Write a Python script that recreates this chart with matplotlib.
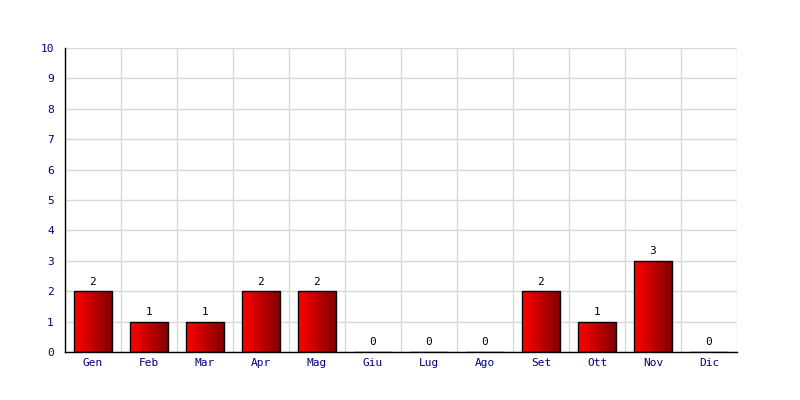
import numpy as np
import matplotlib.pyplot as plt
from matplotlib.colors import LinearSegmentedColormap

months = ["Gen", "Feb", "Mar", "Apr", "Mag", "Giu", "Lug", "Ago", "Set", "Ott", "Nov", "Dic"]
values = [2, 1, 1, 2, 2, 0, 0, 0, 2, 1, 3, 0]
y_ticks = list(range(0, 11))

plt.rcParams['font.family'] = ['DejaVu Sans Mono']

fig = plt.figure(figsize=(8, 4), dpi=100)
ax = fig.add_axes([0.08125, 0.12, 0.84, 0.76])

x = np.arange(len(months))
bar_w = 0.68
grad = LinearSegmentedColormap.from_list("redgrad", ["#ff0000", "#800000"])
g = np.linspace(0, 1, 256).reshape(1, -1)

bars = ax.bar(x, values, width=bar_w, facecolor="none", edgecolor="black", linewidth=1, zorder=3)
for b, v in zip(bars, values):
    if v > 0:
        x0 = b.get_x()
        im = ax.imshow(g, cmap=grad, aspect="auto", extent=[x0, x0 + bar_w, 0, v],
                       zorder=2, interpolation="bicubic")
        im.set_clip_path(b)
    ax.text(b.get_x() + bar_w / 2, v + 0.15, str(v), ha="center", va="bottom",
            fontsize=8, color="black", zorder=4)

ax.set_xlim(-0.5, len(months) - 0.5)
ax.set_ylim(0, 10)
ax.set_yticks(y_ticks)
ax.set_xticks(x)
ax.set_xticklabels(months)
ax.set_xticks(np.arange(-0.5, len(months), 1), minor=True)
ax.grid(False)
ax.grid(True, which="minor", axis="x", color="#d9d9d9", linewidth=1, zorder=0)
ax.grid(True, which="major", axis="y", color="#d9d9d9", linewidth=1, zorder=0)
ax.tick_params(which="both", length=0)
ax.tick_params(axis="both", colors="#000080", labelsize=8)
ax.tick_params(axis="y", pad=8)
ax.tick_params(axis="x", pad=4)

for s in ["top", "right"]:
    ax.spines[s].set_visible(False)
for s in ["left", "bottom"]:
    ax.spines[s].set_color("black")
    ax.spines[s].set_linewidth(1)
    ax.spines[s].set_zorder(5)

plt.savefig("out.png")
